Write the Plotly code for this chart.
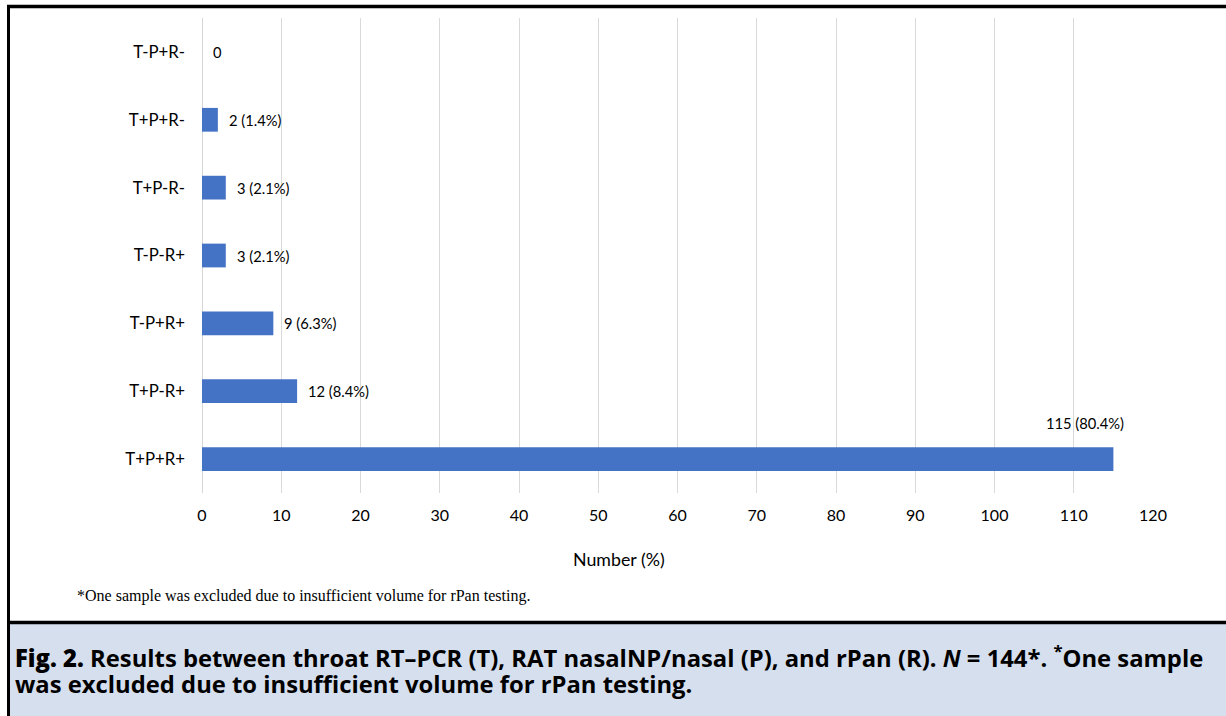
import plotly.graph_objects as go

categories = ["T+P+R+", "T+P-R+", "T-P+R+", "T-P-R+", "T+P-R-", "T+P+R-", "T-P+R-"]
counts = [115, 12, 9, 3, 3, 2, 0]
labels = ["115 (80.4%)", "12 (8.4%)", "9 (6.3%)", "3 (2.1%)", "3 (2.1%)", "2 (1.4%)", "0"]
x_ticks = [0, 10, 20, 30, 40, 50, 60, 70, 80, 90, 100, 110, 120]

W, H = 1226, 716
L, R, T, B = 202, 73, 18, 223
PW = W - L - R
PH = H - T - B


def px(x):
    return (x - L) / PW


def py(y):
    return (H - B - y) / PH


AX_FONT = "Lato"
fig = go.Figure()
fig.add_trace(go.Bar(
    y=categories, x=counts, orientation="h",
    marker=dict(color="#4472C4", line=dict(width=0)),
    width=0.35, hoverinfo="skip",
))

for c, v, t in zip(categories, counts, labels):
    if v > 100:
        fig.add_annotation(x=v, y=c, text=t, showarrow=False, xanchor="center",
                           yanchor="middle", xshift=-28, yshift=36,
                           font=dict(family=AX_FONT, size=14.7, color="#000"))
    else:
        fig.add_annotation(x=v, y=c, text=t, showarrow=False, xanchor="left",
                           yanchor="middle", xshift=9,
                           font=dict(family=AX_FONT, size=14.7, color="#000"))

# axis title
fig.add_annotation(xref="paper", yref="paper", x=px(619), y=py(559), text="Number (%)",
                   showarrow=False, xanchor="center", yanchor="middle",
                   font=dict(family=AX_FONT, size=17.8, color="#000"))
# footnote
fig.add_annotation(xref="paper", yref="paper", x=px(75), y=py(596),
                   text="*One sample was excluded due to insufficient volume for rPan testing.",
                   showarrow=False, xanchor="left", yanchor="middle",
                   font=dict(family="Liberation Serif", size=16, color="#000"))
# caption
cap1 = ("<span style='font-weight:800'>Fig. 2.</span> Results between throat RT\u2013PCR (T), "
        "RAT nasalNP/nasal (P), and rPan (R). <i>N</i> = 144*. <sup>*</sup>One sample")
fig.add_annotation(xref="paper", yref="paper", x=px(14), y=py(656), yanchor="middle",
                   text=cap1, showarrow=False, xanchor="left", borderpad=0,
                   font=dict(family="Open Sans", size=23.8, color="#000", weight=700))
fig.add_annotation(xref="paper", yref="paper", x=px(14), y=py(684), yanchor="middle",
                   text="was excluded due to insufficient volume for rPan testing.",
                   showarrow=False, xanchor="left", borderpad=0,
                   font=dict(family="Open Sans", size=23.8, color="#000", weight=700))

shapes = [
    dict(type="rect", xref="paper", yref="paper", x0=px(8), x1=px(1240), y0=py(622), y1=py(730),
         fillcolor="#d6dfee", line=dict(width=0), layer="above"),
    dict(type="line", xref="paper", yref="paper", x0=px(7), x1=px(1240), y0=py(6.5), y1=py(6.5),
         line=dict(color="#000", width=3.5), layer="above"),
    dict(type="line", xref="paper", yref="paper", x0=px(8.5), x1=px(8.5), y0=py(5), y1=py(730),
         line=dict(color="#000", width=3), layer="above"),
    dict(type="line", xref="paper", yref="paper", x0=px(7), x1=px(1240), y0=py(622.5), y1=py(622.5),
         line=dict(color="#000", width=3.5), layer="above"),
]

fig.update_layout(
    width=W, height=H,
    margin=dict(l=L, r=R, t=T, b=B, autoexpand=False),
    paper_bgcolor="white", plot_bgcolor="white",
    showlegend=False,
    shapes=shapes,
    bargap=0.65,
    xaxis=dict(range=[0, 120], tickvals=x_ticks, showgrid=True, gridcolor="#d9d9d9",
               gridwidth=1, zeroline=False, showline=False, ticks="",
               ticklabelstandoff=11,
               tickfont=dict(family=AX_FONT, size=16, color="#000"), fixedrange=True),
    yaxis=dict(categoryorder="array", categoryarray=categories, showgrid=False,
               zeroline=False, showline=False, ticks="", ticklabelstandoff=16,
               tickfont=dict(family=AX_FONT, size=16.8, color="#000"), fixedrange=True,
               range=[-0.5, 6.5]),
)
# vertical axis line at zero
fig.add_shape(type="line", xref="x", yref="paper", x0=0, x1=0, y0=0, y1=1,
              line=dict(color="#c8c8c8", width=1.5), layer="below")

fig.write_html("out.html")
